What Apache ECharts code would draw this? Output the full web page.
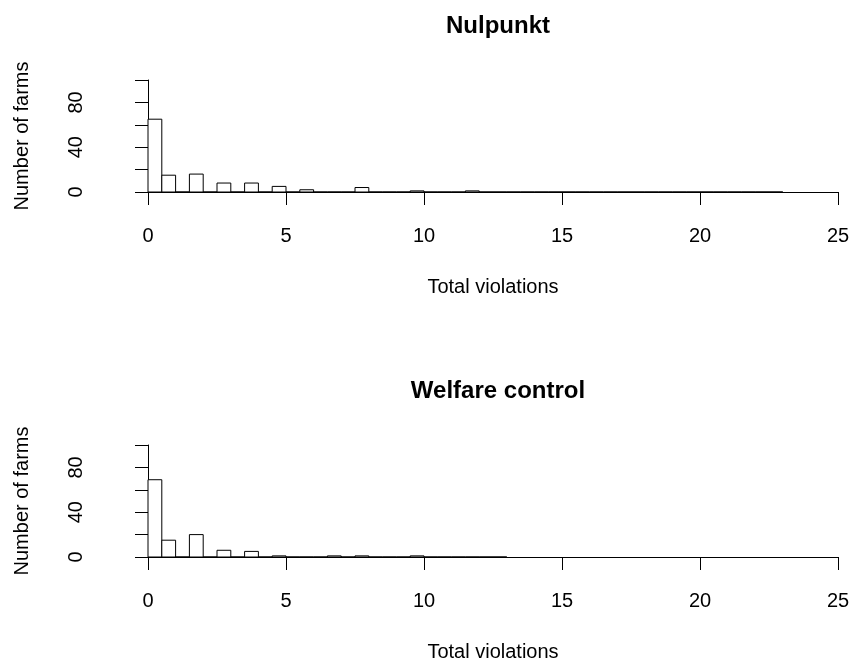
<!DOCTYPE html>
<html>
<head>
<meta charset="utf-8">
<script src="https://cdn.jsdelivr.net/npm/echarts@6/dist/echarts.min.js"></script>
<style>
html,body{margin:0;padding:0;background:#fff;}
#chart{width:854px;height:664px;}
</style>
</head>
<body>
<div id="chart"></div>
<script>
// Histogram bins: width 0.5, each bin [start, start+0.5]
const binWidth = 0.5;
const titles = ['Nulpunkt', 'Welfare control'];
const xAxisTitle = 'Total violations';
const yAxisTitle = 'Number of farms';
const xTicks = [0, 5, 10, 15, 20, 25];
const yTickLabels = ['0', '', '40', '', '80', ''];

// bin start values and counts (Nulpunkt), range 0..23
const nulBinStarts = [0, 0.5, 1, 1.5, 2, 2.5, 3, 3.5, 4, 4.5, 5, 5.5, 6, 6.5, 7, 7.5, 8, 8.5, 9, 9.5, 10, 10.5, 11, 11.5, 12, 12.5, 13, 13.5, 14, 14.5, 15, 15.5, 16, 16.5, 17, 17.5, 18, 18.5, 19, 19.5, 20, 20.5, 21, 21.5, 22, 22.5];
const nulCounts =    [65, 15, 0, 16, 0, 8, 0, 8, 0, 5, 0, 2, 0, 0, 0, 4, 0, 0, 0, 1, 0, 0, 0, 1, 0, 0, 0, 0, 0, 0, 0, 0, 0, 0, 0, 0, 0, 0, 0, 0, 0, 0, 0, 0, 0, 0];

// Welfare control, range 0..13
const welBinStarts = [0, 0.5, 1, 1.5, 2, 2.5, 3, 3.5, 4, 4.5, 5, 5.5, 6, 6.5, 7, 7.5, 8, 8.5, 9, 9.5, 10, 10.5, 11, 11.5, 12, 12.5];
const welCounts =    [69, 15, 0, 20, 0, 6, 0, 5, 0, 1, 0, 0, 0, 1, 0, 1, 0, 0, 0, 1, 0, 0, 0, 0, 0, 0];

const FONT = '"Liberation Sans", Arial, sans-serif';
const panelTops = [80, 445];
const titleTops = [9, 374];

function toData(starts, counts) {
  return starts.map((s, i) => [s, s + binWidth, counts[i]]);
}

const chart = echarts.init(document.getElementById('chart'), null, {renderer: 'canvas'});

const grids = panelTops.map(t => ({left: 148, width: 690, top: t, height: 112, containLabel: false}));

const xAxes = panelTops.map((t, i) => ({
  type: 'value', gridIndex: i, min: 0, max: 25, interval: 5,
  offset: 5,
  name: xAxisTitle, nameLocation: 'middle', nameGap: 80,
  nameTextStyle: {fontFamily: FONT, fontSize: 20, color: '#000'},
  axisLine: {show: true, lineStyle: {color: '#000', width: 1}},
  axisTick: {show: true, length: 13, lineStyle: {color: '#000', width: 1}},
  axisLabel: {show: true, margin: 29, fontFamily: FONT, fontSize: 20, color: '#000'},
  splitLine: {show: false}
}));

const yAxes = panelTops.map((t, i) => ({
  type: 'value', gridIndex: i, min: 0, max: 100, interval: 20,
  offset: 28,
  name: yAxisTitle, nameLocation: 'middle', nameRotate: 90, nameGap: 88,
  nameTextStyle: {fontFamily: FONT, fontSize: 20, color: '#000'},
  axisLine: {show: true, lineStyle: {color: '#000', width: 1}},
  axisTick: {show: true, length: 13, lineStyle: {color: '#000', width: 1}},
  axisLabel: {show: true, rotate: 90, margin: 34, fontFamily: FONT, fontSize: 20, color: '#000',
    formatter: (v) => yTickLabels[Math.round(v / 20)] || ''},
  splitLine: {show: false}
}));

function renderBar(params, api) {
  const x0 = api.value(0), x1 = api.value(1), c = api.value(2);
  const p0 = api.coord([x0, c]);
  const p1 = api.coord([x1, 0]);
  return {
    type: 'rect',
    shape: {x: p0[0], y: p0[1], width: p1[0] - p0[0], height: p1[1] - p0[1]},
    style: {fill: '#fff', stroke: '#000', lineWidth: 1}
  };
}

const option = {
  animation: false,
  backgroundColor: '#fff',
  title: titles.map((txt, i) => ({
    text: txt, left: 493, top: titleTops[i], textAlign: 'center',
    textStyle: {fontFamily: FONT, fontSize: 24, fontWeight: 'bold', color: '#000'}
  })),
  grid: grids,
  xAxis: xAxes,
  yAxis: yAxes,
  series: [
    {type: 'custom', xAxisIndex: 0, yAxisIndex: 0, renderItem: renderBar, data: toData(nulBinStarts, nulCounts), encode: {x: [0, 1], y: 2}, clip: false},
    {type: 'custom', xAxisIndex: 1, yAxisIndex: 1, renderItem: renderBar, data: toData(welBinStarts, welCounts), encode: {x: [0, 1], y: 2}, clip: false}
  ]
};
chart.setOption(option);
</script>
</body>
</html>
